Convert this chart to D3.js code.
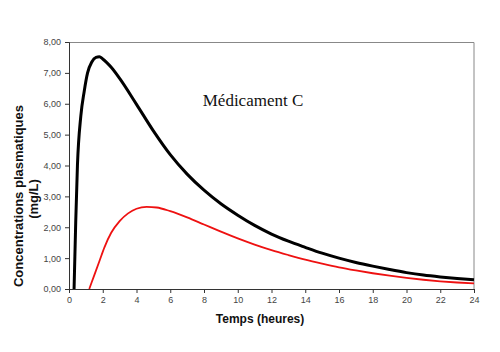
<!DOCTYPE html>
<html>
<head>
<meta charset="utf-8">
<script src="https://cdn.jsdelivr.net/npm/d3@7"></script>
<style>
  body { margin: 0; background: #fff; }
  svg { display: block; }
</style>
</head>
<body>
<div id="chart"></div>
<script>
// Plasma concentration curves, drug C
const xTicks = [0, 2, 4, 6, 8, 10, 12, 14, 16, 18, 20, 22, 24];
const yTicks = [0, 1, 2, 3, 4, 5, 6, 7, 8];

const blackTimes = [0.3, 0.4, 0.5, 0.7, 0.9, 1.1, 1.35, 1.6, 1.8, 2.0, 2.5, 3, 4, 5, 6, 7, 8, 9, 10, 11, 12, 13, 14, 15, 16, 17, 18, 19, 20, 21, 22, 23, 24];
const blackValues = [0, 2.2, 4.0, 5.6, 6.4, 7.0, 7.35, 7.5, 7.52, 7.45, 7.18, 6.82, 5.98, 5.12, 4.35, 3.72, 3.2, 2.76, 2.39, 2.06, 1.78, 1.55, 1.35, 1.16, 1.0, 0.86, 0.74, 0.63, 0.53, 0.45, 0.39, 0.34, 0.3];

const redTimes = [1.2, 1.5, 1.8, 2.1, 2.5, 3.0, 3.5, 4.0, 4.6, 5.2, 6, 7, 8, 9, 10, 11, 12, 13, 14, 15, 16, 17, 18, 19, 20, 21, 22, 23, 24];
const redValues = [0, 0.45, 0.9, 1.35, 1.82, 2.2, 2.45, 2.6, 2.66, 2.64, 2.52, 2.32, 2.09, 1.86, 1.64, 1.44, 1.26, 1.1, 0.95, 0.82, 0.7, 0.6, 0.51, 0.43, 0.36, 0.3, 0.25, 0.21, 0.18];

const width = 500;
const height = 352;
const margin = { top: 42, right: 26, bottom: 63, left: 69 };
const innerWidth = width - margin.left - margin.right;
const innerHeight = height - margin.top - margin.bottom;

const svg = d3.select('#chart')
    .append('svg')
    .attr('width', width)
    .attr('height', height);

const g = svg.append('g')
    .attr('transform', `translate(${margin.left},${margin.top})`);

const xScale = d3.scaleLinear().domain([0, 24]).range([0, innerWidth]);
const yScale = d3.scaleLinear().domain([0, 8]).range([innerHeight, 0]);

// frame (top + right)
g.append('path')
    .attr('d', `M0,0.5H${innerWidth}V${innerHeight}`)
    .style('fill', 'none')
    .style('stroke', '#888')
    .style('stroke-width', 1);

const fmt = d => d3.format('.2f')(d).replace('.', ',');

const yAxis = g.append('g')
    .call(d3.axisLeft(yScale).tickValues(yTicks).tickFormat(fmt).tickSize(4).tickPadding(4));

const xAxis = g.append('g')
    .attr('transform', `translate(0,${innerHeight})`)
    .call(d3.axisBottom(xScale).tickValues(xTicks).tickFormat(d3.format('d')).tickSize(4).tickPadding(4));

[xAxis, yAxis].forEach(a => {
    a.select('.domain').style('stroke', '#333');
    a.selectAll('.tick line').style('stroke', '#333');
    a.selectAll('.tick text')
        .style('font-family', 'Arial, "Liberation Sans", sans-serif')
        .style('font-size', '9px')
        .style('fill', '#444');
});

// curves
const line = d3.line()
    .x(d => xScale(d[0]))
    .y(d => yScale(d[1]))
    .curve(d3.curveMonotoneX);

g.append('path')
    .datum(redTimes.map((t, i) => [t, redValues[i]]))
    .attr('d', line)
    .style('fill', 'none')
    .style('stroke', '#ee1111')
    .style('stroke-width', 1.8);

g.append('path')
    .datum(blackTimes.map((t, i) => [t, blackValues[i]]))
    .attr('d', line)
    .style('fill', 'none')
    .style('stroke', '#000')
    .style('stroke-width', 3);

// title inside plot
svg.append('text')
    .attr('x', 253)
    .attr('y', 106)
    .attr('text-anchor', 'middle')
    .style('font-family', '"Liberation Serif", "Times New Roman", serif')
    .style('font-size', '17px')
    .style('fill', '#111')
    .text('Médicament C');

// axis labels
svg.append('text')
    .attr('x', 260)
    .attr('y', 323)
    .attr('text-anchor', 'middle')
    .style('font-family', 'Arial, "Liberation Sans", sans-serif')
    .style('font-weight', 'bold')
    .style('font-size', '12px')
    .style('fill', '#111')
    .text('Temps (heures)');

const yLabel = svg.append('text')
    .attr('transform', 'translate(0,196) rotate(-90)')
    .attr('text-anchor', 'middle')
    .style('font-family', 'Arial, "Liberation Sans", sans-serif')
    .style('font-weight', 'bold')
    .style('font-size', '13px')
    .style('fill', '#111');

yLabel.append('tspan').attr('x', 0).attr('y', 23).text('Concentrations plasmatiques');
yLabel.append('tspan').attr('x', -3).attr('y', 38).text('(mg/L)');
</script>
</body>
</html>
